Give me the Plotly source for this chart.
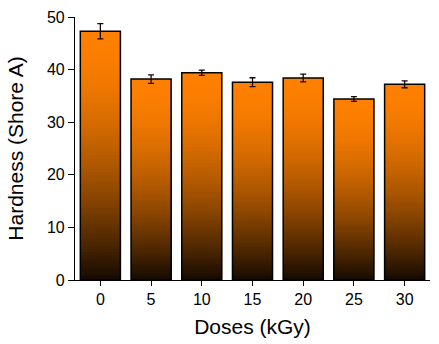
import numpy as np
import plotly.graph_objects as go

# Shore A hardness against irradiation dose
doses = ["0", "5", "10", "15", "20", "25", "30"]
hardness = [47.3, 38.2, 39.4, 37.6, 38.4, 34.4, 37.2]
hardness_err = [1.45, 0.8, 0.5, 0.85, 0.75, 0.45, 0.65]
y_ticks = [0, 10, 20, 30, 40, 50]

ORANGE = np.array([255, 128, 0])
N_LEVELS = 90


def shade(t):
    """Orange at the top of a bar fading smoothly to near black at its base."""
    b = 0.07 + 0.93 * (1.0 - (1.0 - t) ** 1.7)
    r, g, bl = (ORANGE * b).round().astype(int)
    return f"rgb({r},{g},{bl})"


fig = go.Figure()

# Vertical gradient: overlaid bars, tallest first, each a fraction of the full height
vals = np.array(hardness)
for k in range(N_LEVELS, 0, -1):
    t = k / N_LEVELS
    fig.add_trace(go.Bar(
        x=doses, y=vals * t,
        marker=dict(color=shade(t), line=dict(width=0)),
        showlegend=False, hoverinfo="skip",
    ))

# Outline and error bars on top
fig.add_trace(go.Bar(
    x=doses, y=hardness,
    marker=dict(color="rgba(0,0,0,0)", line=dict(color="#000000", width=1.5)),
    error_y=dict(type="data", array=hardness_err, color="#1a0500",
                 thickness=1.3, width=3),
    showlegend=False,
))

font = "Liberation Sans, Arial, sans-serif"
fig.update_layout(
    width=439, height=344,
    margin=dict(l=75, r=9, t=15, b=64),
    paper_bgcolor="white", plot_bgcolor="white",
    barmode="overlay", bargap=0.21,
    font=dict(family=font, color="#000000", size=16),
    xaxis=dict(
        type="category", range=[-0.5, 6.5],
        showline=True, linecolor="#000000", linewidth=1.2,
        ticks="outside", ticklen=5, tickwidth=1.2, tickcolor="#000000",
        tickfont=dict(size=16),
        title=dict(text="Doses (kGy)", font=dict(size=21), standoff=12),
        showgrid=False, zeroline=False,
    ),
    yaxis=dict(
        range=[0, 50], tickvals=y_ticks,
        showline=True, linecolor="#000000", linewidth=1.2,
        ticks="outside", ticklen=6, tickwidth=1.2, tickcolor="#000000",
        tickfont=dict(size=16),
        title=dict(text="Hardness (Shore A)", font=dict(size=21), standoff=17),
        showgrid=False, zeroline=False,
    ),
)

fig.write_html("out.html")
